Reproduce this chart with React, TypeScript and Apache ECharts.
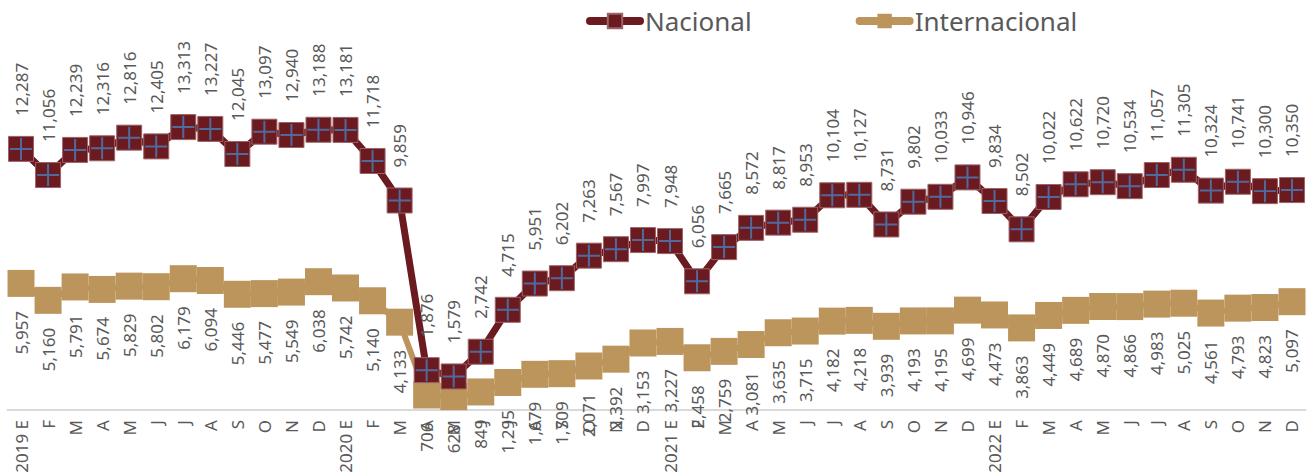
import React, { useEffect, useRef } from 'react';
import * as echarts from 'echarts';

const categories = [
  '2019 E', 'F', 'M', 'A', 'M', 'J', 'J', 'A', 'S', 'O', 'N', 'D',
  '2020 E', 'F', 'M', 'A', 'M', 'J', 'J', 'A', 'S', 'O', 'N', 'D',
  '2021 E', 'F', 'M', 'A', 'M', 'J', 'J', 'A', 'S', 'O', 'N', 'D',
  '2022 E', 'F', 'M', 'A', 'M', 'J', 'J', 'A', 'S', 'O', 'N', 'D',
];

const nacional = [
  12287, 11056, 12239, 12316, 12816, 12405, 13313, 13227, 12045, 13097, 12940, 13188,
  13181, 11718, 9859, 1876, 1579, 2742, 4715, 5951, 6202, 7263, 7567, 7997,
  7948, 6056, 7665, 8572, 8817, 8953, 10104, 10127, 8731, 9802, 10033, 10946,
  9834, 8502, 10022, 10622, 10720, 10534, 11057, 11305, 10324, 10741, 10300, 10350,
];

const internacional = [
  5957, 5160, 5791, 5674, 5829, 5802, 6179, 6094, 5446, 5477, 5549, 6038,
  5742, 5140, 4133, 706, 628, 849, 1295, 1679, 1709, 2071, 2392, 3153,
  3227, 2458, 2759, 3081, 3635, 3715, 4182, 4218, 3939, 4193, 4195, 4699,
  4473, 3863, 4449, 4689, 4870, 4866, 4983, 5025, 4561, 4793, 4823, 5097,
];

const FONT = 'Noto Sans';
const TEXT = '#595959';
const MAROON = '#6B1A20';
const TAN = '#BC955C';
const CROSS = '#4A7EBB';

const fmt = (v: number) => v.toLocaleString('en-US');

export default function App() {
  const ref = useRef<HTMLDivElement>(null);

  useEffect(() => {
    document.body.style.margin = '0';
    if (!ref.current) return;
    const chart = echarts.init(ref.current, undefined, { renderer: 'svg' });
    chart.setOption({
      animation: false,
      textStyle: { fontFamily: FONT },
      legend: {
        left: 581,
        top: 3,
        itemWidth: 50,
        itemHeight: 18,
        itemGap: 104,
        lineStyle: { width: 8, cap: 'round' },
        textStyle: { fontSize: 26, color: TEXT, fontFamily: FONT },
        data: ['Nacional', 'Internacional'],
      },
      grid: { left: 7.5, right: 4.5, top: 70, bottom: 66 },
      xAxis: {
        type: 'category',
        data: categories,
        boundaryGap: true,
        axisLine: { show: true, lineStyle: { color: '#D9D9D9', width: 2 } },
        axisTick: { show: false },
        axisLabel: {
          interval: 0,
          rotate: 90,
          fontSize: 17,
          color: TEXT,
          fontFamily: FONT,
          margin: 10,
        },
      },
      yAxis: {
        type: 'value',
        min: 0,
        max: 16000,
        show: false,
        splitLine: { show: false },
      },
      series: [
        {
          name: 'Internacional',
          type: 'line',
          data: internacional,
          symbol: 'rect',
          symbolSize: 27,
          z: 2,
          lineStyle: { color: TAN, width: 6, cap: 'round' },
          itemStyle: { color: TAN },
          label: {
            show: true,
            position: 'bottom',
            distance: 14,
            rotate: 90,
            align: 'right',
            verticalAlign: 'middle',
            fontSize: 17,
            color: TEXT,
            fontFamily: FONT,
            formatter: (p: any) => fmt(p.value),
          },
        },
        {
          name: 'Nacional',
          type: 'line',
          data: nacional,
          symbol: 'rect',
          symbolSize: 25,
          z: 3,
          lineStyle: { color: MAROON, width: 7, cap: 'round' },
          itemStyle: { color: MAROON, borderColor: '#9C6468', borderWidth: 1 },
          label: {
            show: true,
            position: 'top',
            distance: 20,
            rotate: 90,
            align: 'left',
            verticalAlign: 'middle',
            fontSize: 17,
            color: TEXT,
            fontFamily: FONT,
            formatter: (p: any) => fmt(p.value),
          },
        },
        {
          name: 'NacionalCross',
          type: 'scatter',
          data: nacional,
          symbol: 'path://M10,0h2v10h10v2h-10v10h-2v-10h-10v-2h10z',
          symbolSize: 22,
          z: 4,
          silent: true,
          itemStyle: { color: CROSS },
          label: { show: false },
        },
      ],
    });
    return () => chart.dispose();
  }, []);

  return <div ref={ref} style={{ width: 1310, height: 476 }} />;
}
